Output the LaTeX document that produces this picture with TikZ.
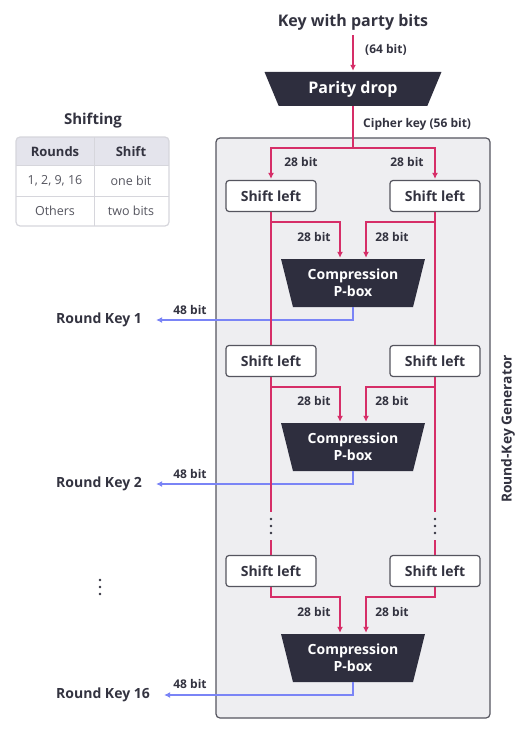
\documentclass[tikz,border=0pt]{standalone}
\usepackage{fontspec}
\setmainfont{Open Sans}
\usetikzlibrary{shapes.geometric,arrows.meta}
\definecolor{pk}{RGB}{214,46,104}
\definecolor{bl}{RGB}{122,132,246}
\definecolor{dk}{RGB}{46,46,62}
\definecolor{tx}{RGB}{51,51,64}
\definecolor{gfill}{RGB}{238,238,241}
\definecolor{gline}{RGB}{85,85,95}
\definecolor{hdr}{RGB}{228,228,236}
\definecolor{tline}{RGB}{214,214,220}
\definecolor{ttx}{RGB}{85,85,95}
\tikzset{
  pkline/.style={draw=pk,line width=1.8pt},
  pkarrow/.style={pkline,-{Latex[length=6pt,width=6pt]},shorten >=1pt},
  blarrow/.style={draw=bl,line width=1.8pt,-{Latex[length=6pt,width=6pt]}},
  shiftbox/.style={draw=gline,fill=white,rounded corners=3pt,line width=1.2pt,minimum width=90pt,minimum height=31pt,inner sep=0pt,text=tx,font=\fontsize{14}{16}\selectfont\bfseries},
  trap/.style={trapezium,trapezium stretches=true,shape border rotate=180,fill=dk,text=white,inner sep=0pt,align=center},
  lab/.style={text=tx,font=\fontsize{12}{13}\selectfont\bfseries,inner sep=0pt},
  rkey/.style={text=tx,font=\fontsize{14}{16}\selectfont\bfseries,anchor=west,inner sep=2pt},
  dotc/.style={fill=tx},
  tbltext/.style={text=ttx,font=\fontsize{12.5}{14}\selectfont,inner sep=0pt},
  tblhead/.style={text=tx,font=\fontsize{13}{14}\selectfont\bfseries,inner sep=0pt},
}
\begin{document}
\begin{tikzpicture}[x=1pt,y=-1pt]
\useasboundingbox (0,0) rectangle (526,754);
% generator box
\draw[draw=gline,fill=gfill,line width=1.2pt,rounded corners=4pt] (216,138) rectangle (490,718);
\node[text=tx,font=\fontsize{13.8}{15}\selectfont\bfseries,rotate=90] (gen) at (508,429) {Round-Key Generator};

% top
\node[text=tx,font=\fontsize{16}{18}\selectfont\bfseries,inner sep=0pt] (title) at (353,22) {Key with party bits};
\node[trap,minimum width=177pt,minimum height=34pt,trapezium angle=62,font=\fontsize{16}{18}\selectfont\bfseries] (pd) at (353,89) {Parity drop};
\draw[pkarrow] ([yshift=-5pt]title.south) -- (pd.north);
\node[lab,anchor=west] (l64) at (365,50) {(64 bit)};
\coordinate (j0) at (353,148);
\draw[pkline] (pd.south) -- (j0);
\node[lab,anchor=west] (lck) at (363,124) {Cipher key (56 bit)};

% round 1
\node[shiftbox] (s1l) at (271,196) {Shift left};
\node[shiftbox] (s1r) at (435,196) {Shift left};
\draw[pkarrow] (j0) -| (s1l.north);
\draw[pkarrow] (j0) -| (s1r.north);
\node[lab] (a1) at (301,162) {28 bit};
\node[lab] (a2) at (407,162) {28 bit};
\node[trap,minimum width=144pt,minimum height=48pt,trapezium angle=72,font=\fontsize{14}{17}\selectfont\bfseries] (c1) at (353,283) {Compression\\P-box};
\draw[pkarrow] (s1l.south) -- ++(0,10) -| ([xshift=-13pt]c1.north);
\draw[pkarrow] (s1r.south) -- ++(0,10) -| ([xshift=13pt]c1.north);
\node[lab] (b1) at (314,237) {28 bit};
\node[lab] (b2) at (392,237) {28 bit};
\node[rkey] (rk1) at (54,320) {Round Key 1};
\draw[blarrow] (c1.south) |- ([xshift=12pt]rk1.east);
\node[lab] (k1) at (190,310) {48 bit};

% round 2
\node[shiftbox] (s2l) at (271,361) {Shift left};
\node[shiftbox] (s2r) at (435,361) {Shift left};
\draw[pkline] (s1l.south) -- (s2l.north);
\draw[pkline] (s1r.south) -- (s2r.north);
\node[trap,minimum width=144pt,minimum height=48pt,trapezium angle=72,font=\fontsize{14}{17}\selectfont\bfseries] (c2) at (353,447) {Compression\\P-box};
\draw[pkarrow] (s2l.south) -- ++(0,10) -| ([xshift=-13pt]c2.north);
\draw[pkarrow] (s2r.south) -- ++(0,10) -| ([xshift=13pt]c2.north);
\node[lab] (b3) at (314,401) {28 bit};
\node[lab] (b4) at (392,401) {28 bit};
\node[rkey] (rk2) at (54,484) {Round Key 2};
\draw[blarrow] (c2.south) |- ([xshift=12pt]rk2.east);
\node[lab] (k2) at (190,474) {48 bit};

% dots
\foreach \xx in {271,435,100} {
  \pgfmathsetmacro{\yy}{\xx==100 ? 580 : 519}
  \foreach \dd in {0,7,14} \fill[dotc] (\xx,\yy+\dd) circle (1.4pt);
}
\coordinate (e1) at (271,512);
\coordinate (e2) at (435,512);
\coordinate (f1) at (271,540);
\coordinate (f2) at (435,540);
\draw[pkline] (s2l.south) -- (e1);
\draw[pkline] (s2r.south) -- (e2);

% round 16
\node[shiftbox] (s3l) at (271,571) {Shift left};
\node[shiftbox] (s3r) at (435,571) {Shift left};
\draw[pkline] (f1) -- (s3l.north);
\draw[pkline] (f2) -- (s3r.north);
\node[trap,minimum width=144pt,minimum height=48pt,trapezium angle=72,font=\fontsize{14}{17}\selectfont\bfseries] (c3) at (353,658) {Compression\\P-box};
\draw[pkarrow] (s3l.south) -- ++(0,10) -| ([xshift=-13pt]c3.north);
\draw[pkarrow] (s3r.south) -- ++(0,10) -| ([xshift=13pt]c3.north);
\node[lab] (b5) at (314,612) {28 bit};
\node[lab] (b6) at (392,612) {28 bit};
\node[rkey] (rk3) at (54,695) {Round Key 16};
\draw[blarrow] (c3.south) |- ([xshift=12pt]rk3.east);
\node[lab] (k3) at (190,684) {48 bit};

% shifting table
\node[text=tx,font=\fontsize{15}{16}\selectfont\bfseries,inner sep=0pt] (st) at (93,121) {Shifting};
\begin{scope}
\clip[rounded corners=4pt] (16,137) rectangle (169,226);
\fill[white] (16,137) rectangle (169,226);
\fill[hdr] (16,137) rectangle (169,166);
\draw[tline,line width=1pt] (16,166) -- (169,166) (16,196) -- (169,196) (94,137) -- (94,226);
\end{scope}
\draw[tline,line width=1.2pt,rounded corners=4pt] (16,137) rectangle (169,226);
\node[tblhead] (h1) at (55,152) {Rounds};
\node[tblhead] (h2) at (131,152) {Shift};
\node[tbltext] (r1) at (55,181) {1, 2, 9, 16};
\node[tbltext] (r2) at (131,181) {one bit};
\node[tbltext] (r3) at (55,211) {Others};
\node[tbltext] (r4) at (131,211) {two bits};
\end{tikzpicture}
\end{document}
